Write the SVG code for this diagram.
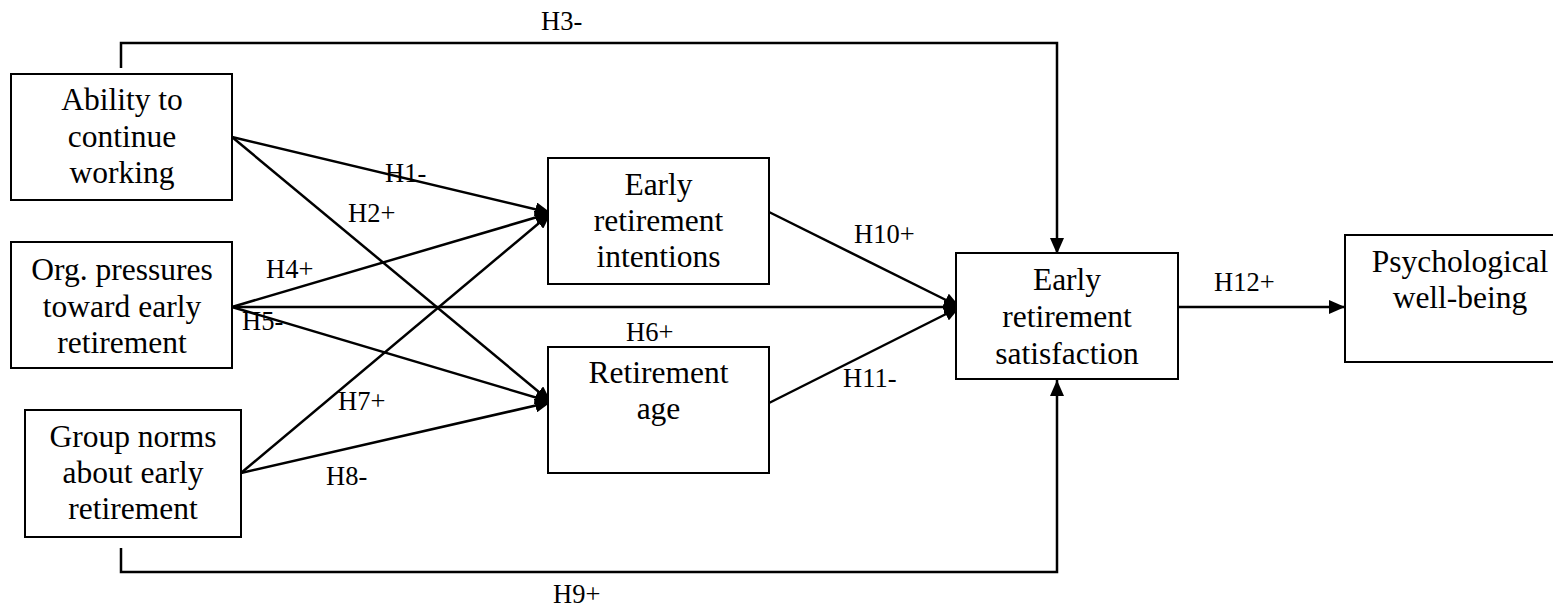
<svg xmlns="http://www.w3.org/2000/svg" width="1553" height="611" viewBox="0 0 1553 611">
<style>
.box{fill:#fff;stroke:#000;stroke-width:2}
.t{font-family:'Liberation Serif','Tinos','Times New Roman','DejaVu Serif',serif;font-size:31.5px;text-anchor:middle;fill:#000}
.l{font-family:'Liberation Serif','Tinos','Times New Roman','DejaVu Serif',serif;font-size:26.5px;fill:#000}
.c{fill:none;stroke:#000;stroke-width:2.5}
</style>
<defs>
<marker id="ah" viewBox="0 0 16 14" refX="16" refY="7" markerWidth="16" markerHeight="14" markerUnits="userSpaceOnUse" orient="auto">
<path d="M0,0 L16,7 L0,14 z" fill="#000"/>
</marker>
</defs>
<rect width="1553" height="611" fill="#fff"/>
<g id="connectors">
<polyline class="c" points="121,68 121,43 1057,43 1057,254" marker-end="url(#ah)"/>
<polyline class="c" points="121,548 121,572 1057,572 1057,380" marker-end="url(#ah)"/>
<line class="c" x1="232" y1="137" x2="551" y2="213" marker-end="url(#ah)"/>
<line class="c" x1="232" y1="137" x2="551" y2="402" marker-end="url(#ah)"/>
<line class="c" x1="232" y1="307" x2="551" y2="213" marker-end="url(#ah)"/>
<line class="c" x1="232" y1="307" x2="551" y2="402" marker-end="url(#ah)"/>
<line class="c" x1="232" y1="307" x2="960" y2="307" marker-end="url(#ah)"/>
<line class="c" x1="241" y1="473" x2="551" y2="213" marker-end="url(#ah)"/>
<line class="c" x1="241" y1="473" x2="551" y2="402" marker-end="url(#ah)"/>
<line class="c" x1="769" y1="212" x2="960" y2="307" marker-end="url(#ah)"/>
<line class="c" x1="769" y1="403" x2="960" y2="307" marker-end="url(#ah)"/>
<line class="c" x1="1178" y1="307" x2="1345" y2="307" marker-end="url(#ah)"/>
<text class="l" x="541" y="30">H3-</text>
<text class="l" x="385" y="182">H1-</text>
<text class="l" x="348" y="222">H2+</text>
<text class="l" x="266" y="278">H4+</text>
<text class="l" x="242" y="330">H5-</text>
<text class="l" x="626" y="341">H6+</text>
<text class="l" x="338" y="410">H7+</text>
<text class="l" x="326" y="485">H8-</text>
<text class="l" x="553" y="603">H9+</text>
<text class="l" x="854" y="243">H10+</text>
<text class="l" x="843" y="387">H11-</text>
<text class="l" x="1214" y="291">H12+</text>
</g>
<g id="ability">
<rect class="box" x="11" y="74" width="221" height="126"/>
<text class="t" x="122" y="110">Ability to</text>
<text class="t" x="122" y="147">continue</text>
<text class="t" x="122" y="183">working</text>
</g>
<g id="org">
<rect class="box" x="11" y="242" width="221" height="126"/>
<text class="t" x="122" y="280">Org. pressures</text>
<text class="t" x="122" y="317">toward early</text>
<text class="t" x="122" y="353">retirement</text>
</g>
<g id="group">
<rect class="box" x="25" y="410" width="216" height="127"/>
<text class="t" x="133" y="447">Group norms</text>
<text class="t" x="133" y="483">about early</text>
<text class="t" x="133" y="519">retirement</text>
</g>
<g id="intentions">
<rect class="box" x="548" y="158" width="221" height="126"/>
<text class="t" x="658.5" y="195">Early</text>
<text class="t" x="658.5" y="231">retirement</text>
<text class="t" x="658.5" y="267">intentions</text>
</g>
<g id="retage">
<rect class="box" x="548" y="347" width="221" height="126"/>
<text class="t" x="658.5" y="383">Retirement</text>
<text class="t" x="658.5" y="419">age</text>
</g>
<g id="satisfaction">
<rect class="box" x="956" y="253" width="222" height="126"/>
<text class="t" x="1067" y="290">Early</text>
<text class="t" x="1067" y="327">retirement</text>
<text class="t" x="1067" y="364">satisfaction</text>
</g>
<g id="wellbeing">
<rect class="box" x="1345" y="235" width="220" height="127"/>
<text class="t" x="1460" y="272">Psychological</text>
<text class="t" x="1460" y="308">well-being</text>
</g>
</svg>
